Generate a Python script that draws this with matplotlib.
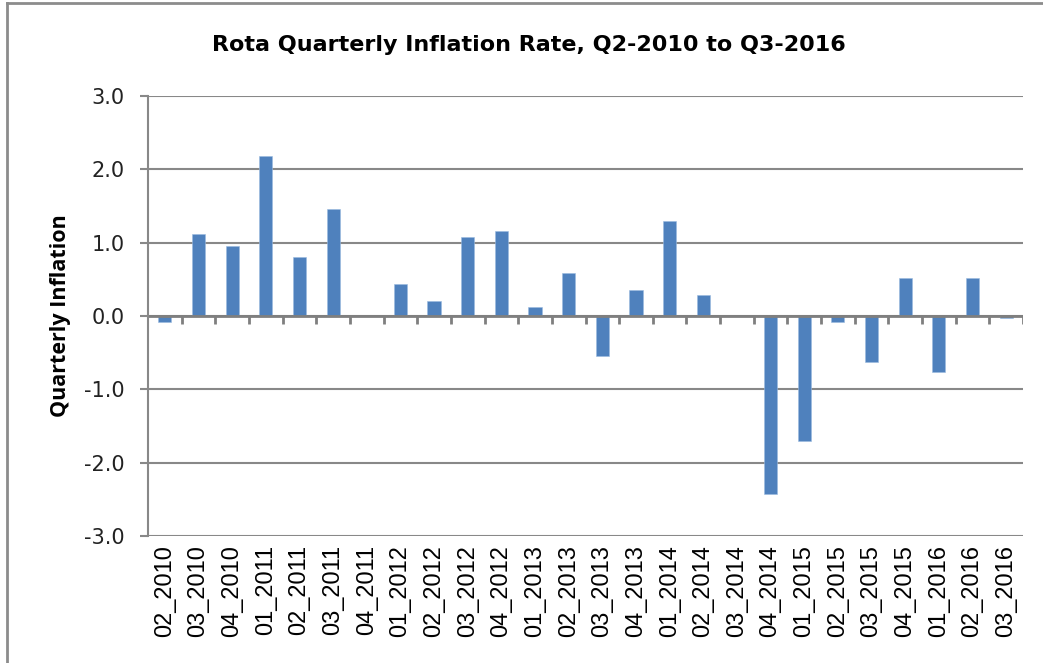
import numpy as np
import matplotlib
matplotlib.use("Agg")
import matplotlib.pyplot as plt
from matplotlib.lines import Line2D

quarters = ["02_2010", "03_2010", "04_2010", "01_2011", "02_2011", "03_2011",
            "04_2011", "01_2012", "02_2012", "03_2012", "04_2012", "01_2013",
            "02_2013", "03_2013", "04_2013", "01_2014", "02_2014", "03_2014",
            "04_2014", "01_2015", "02_2015", "03_2015", "04_2015", "01_2016",
            "02_2016", "03_2016"]
inflation = [-0.08, 1.12, 0.96, 2.18, 0.80, 1.46, 0.0, 0.43, 0.20, 1.08,
             1.16, 0.12, 0.59, -0.54, 0.36, 1.30, 0.29, 0.0, -2.43, -1.71,
             -0.08, -0.63, 0.52, -0.76, 0.52, -0.03]
y_ticks = [-3.0, -2.0, -1.0, 0.0, 1.0, 2.0, 3.0]

grey = "#888888"
blue = "#4f81bd"

fig = plt.figure(figsize=(10.43, 6.63), dpi=100)
ax = fig.add_axes([148 / 1043, 1 - 536 / 663, 875 / 1043, 440 / 663])

x = np.arange(len(quarters))
ax.bar(x, inflation, width=0.39, color=blue, edgecolor="#9bbbe0",
       linewidth=0.4, zorder=3)

ax.set_xlim(-0.5, len(quarters) - 0.5)
ax.set_ylim(y_ticks[0], y_ticks[-1])
ax.set_yticks(y_ticks)
ax.set_yticklabels([f"{v:.1f}" for v in y_ticks], family="DejaVu Sans",
                   fontsize=15, color="#222222")
ax.tick_params(axis="y", direction="out", length=5.8, width=1.5, color=grey,
               pad=11)
ax.set_xticks(x)
ax.set_xticklabels(quarters, rotation=90, family="Liberation Sans",
                   fontsize=17, va="top", ha="center")
ax.tick_params(axis="x", length=0, pad=6.5)

ax.grid(axis="y", color=grey, linewidth=1.5)
ax.set_axisbelow(True)
for side in ("top", "right", "bottom"):
    ax.spines[side].set_visible(False)
ax.spines["left"].set_color(grey)
ax.spines["left"].set_linewidth(1.5)
ax.spines["left"].set_zorder(4)

# zero line with category separators hanging below it
bounds = np.arange(len(quarters) + 1) - 0.5
ax.axhline(0, color="#7f7f7f", linewidth=2, zorder=4)
ax.vlines(bounds[1:], -0.115, 0, colors="#7f7f7f", linewidths=2, zorder=4)

ax.set_ylabel("Quarterly Inflation", family="Open Sans", fontweight="bold",
              fontsize=15.5)
ax.yaxis.set_label_coords(-0.088, 0.5)

fig.text(529 / 1043, 1 - 45 / 663, "Rota Quarterly Inflation Rate, Q2-2010 to Q3-2016",
         family="DejaVu Sans", fontweight="bold", fontsize=16,
         ha="center", va="center")

# outer chart frame
fig.add_artist(Line2D([7 / 1043, 7 / 1043], [0, 1 - 3 / 663],
                      transform=fig.transFigure, color="#8c8c8c", lw=2))
fig.add_artist(Line2D([7 / 1043, 1], [1 - 3 / 663, 1 - 3 / 663],
                      transform=fig.transFigure, color="#8c8c8c", lw=2))

fig.savefig("out.png", dpi=100)
